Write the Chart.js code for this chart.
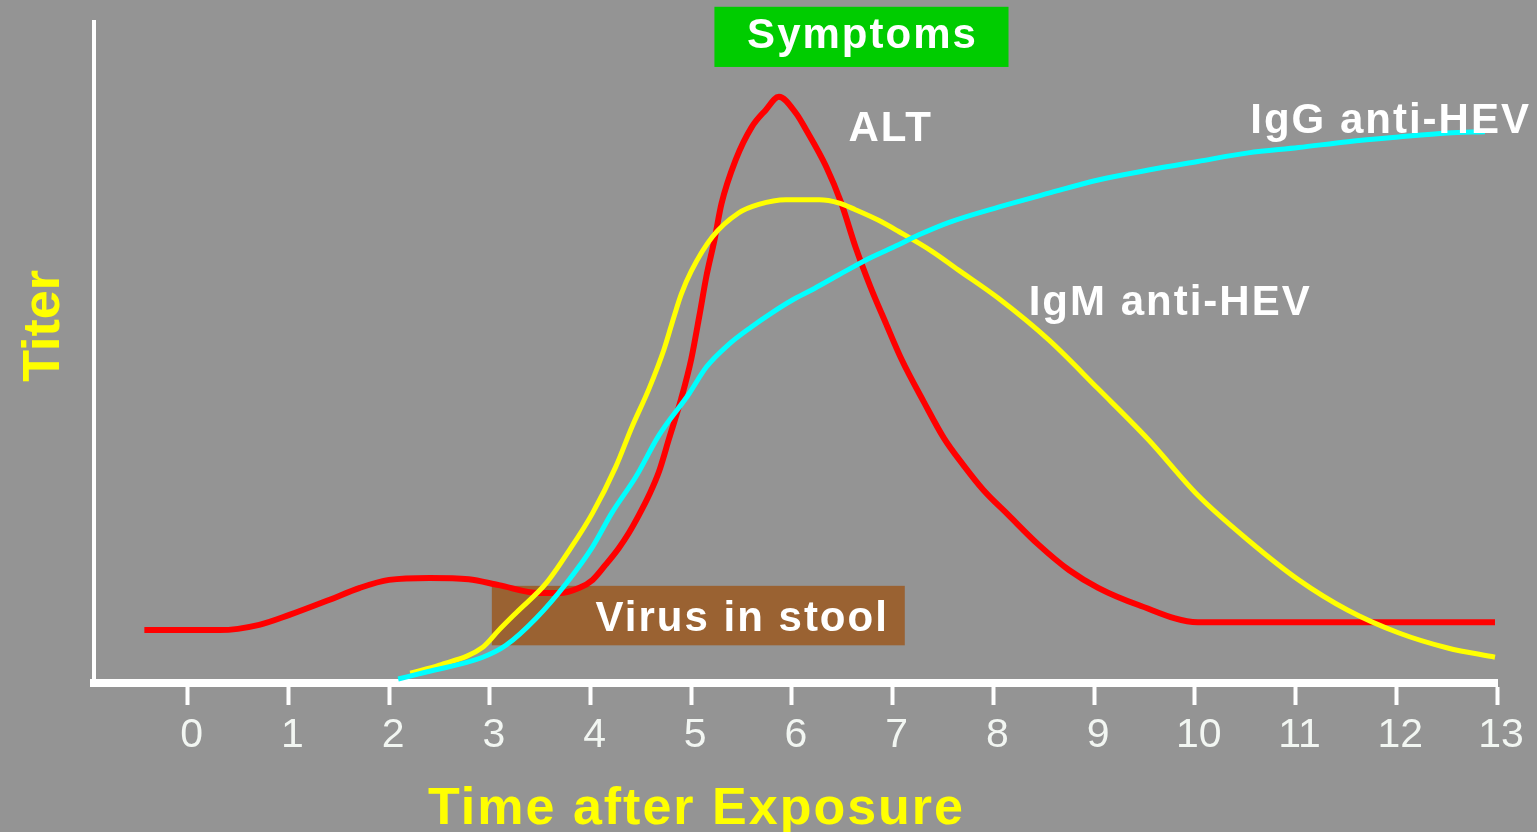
<!DOCTYPE html>
<html>
<head>
<meta charset="utf-8">
<script src="https://cdn.jsdelivr.net/npm/chart.js@4.4.1/dist/chart.umd.min.js"></script>
<style>
  html, body { margin: 0; padding: 0; background: #949494; overflow: hidden; }
  #wrap { width: 1537px; height: 832px; position: relative; }
</style>
</head>
<body>
<div id="wrap"><canvas id="c"></canvas></div>
<script>
// ---- data (time after exposure, relative titer 0-100) ----
const xTicks = [0, 1, 2, 3, 4, 5, 6, 7, 8, 9, 10, 11, 12, 13];

const altX = [-0.43, 0.32, 0.71, 1.01, 1.41, 1.71, 2.00, 2.40, 2.79, 3.09, 3.49, 3.69, 3.89, 4.02, 4.15, 4.28, 4.38, 4.48, 4.58, 4.68, 4.78, 4.90, 5.00, 5.08, 5.15, 5.23, 5.30, 5.44, 5.60, 5.74, 5.87, 6.04, 6.14, 6.34, 6.49, 6.63, 6.78, 6.93, 7.09, 7.31, 7.51, 7.70, 7.90, 8.15, 8.45, 8.75, 9.04, 9.44, 10.03, 11.03, 12.98];
const altY = [8.0, 8.0, 8.8, 10.3, 12.6, 14.4, 15.6, 15.9, 15.7, 14.8, 13.6, 13.6, 14.4, 15.6, 17.9, 20.4, 22.7, 25.4, 28.4, 32.0, 37.0, 43.0, 49.0, 55.5, 61.5, 67.0, 72.5, 79.1, 84.1, 86.7, 88.7, 86.2, 83.7, 78.1, 72.6, 66.0, 59.9, 54.5, 48.9, 42.5, 37.0, 33.0, 29.2, 25.4, 20.9, 17.1, 14.4, 11.8, 9.2, 9.2, 9.2];

const igmX = [2.21, 2.50, 2.93, 3.09, 3.26, 3.56, 3.79, 4.02, 4.25, 4.41, 4.58, 4.73, 4.83, 4.90, 5.00, 5.21, 5.47, 5.67, 5.94, 6.27, 6.47, 6.63, 6.86, 7.06, 7.39, 7.65, 8.05, 8.55, 9.04, 9.54, 10.03, 10.53, 11.03, 11.52, 12.02, 12.51, 12.98];
const igmY = [1.5, 2.7, 5.4, 8.0, 10.6, 15.1, 20.1, 25.7, 32.7, 38.7, 44.5, 50.5, 55.5, 58.8, 62.3, 67.5, 71.1, 72.4, 73.1, 73.1, 72.6, 71.6, 70.0, 68.3, 65.3, 62.5, 58.2, 51.9, 44.5, 36.8, 28.4, 21.6, 15.6, 11.0, 7.6, 5.3, 3.9];

const iggX = [2.09, 2.38, 2.93, 3.16, 3.46, 3.76, 4.02, 4.21, 4.45, 4.68, 4.98, 5.15, 5.37, 5.60, 5.80, 6.00, 6.20, 6.40, 6.59, 6.79, 7.03, 7.26, 7.56, 8.05, 8.55, 9.04, 9.54, 10.03, 10.53, 11.03, 11.52, 12.02, 12.51, 12.88];
const iggY = [0.6, 1.7, 3.9, 5.7, 9.8, 15.1, 20.6, 25.7, 31.2, 37.5, 43.8, 47.8, 51.2, 53.9, 56.0, 57.9, 59.5, 61.2, 62.8, 64.4, 66.1, 67.8, 69.7, 72.0, 74.1, 76.1, 77.6, 78.9, 80.2, 81.0, 81.9, 82.6, 83.2, 83.4];

const seriesNames = ['IgG anti-HEV', 'IgM anti-HEV', 'ALT'];
const seriesColors = ['#00ffff', '#ffff00', '#ff0000'];

// ---- chart ----
const pts = (xs, ys) => xs.map((x, i) => ({ x: x, y: ys[i] }));

const annot = {
  id: 'annot',
  beforeDraw(chart) {
    const c = chart.ctx;
    c.save();
    c.fillStyle = '#949494';
    c.fillRect(0, 0, chart.width, chart.height);
    c.restore();
  },
  beforeDatasetsDraw(chart) {
    const c = chart.ctx, xs = chart.scales.x, ys = chart.scales.y;
    const X = v => xs.getPixelForValue(v), Y = v => ys.getPixelForValue(v);
    c.save();
    // Virus in stool box
    c.fillStyle = '#9a6232';
    c.fillRect(X(3.02), Y(14.7), X(7.12) - X(3.02), Y(5.7) - Y(14.7));
    c.fillStyle = '#ffffff';
    c.font = 'bold 42px "Liberation Sans", Arial, sans-serif';
    c.letterSpacing = '2px';
    c.textBaseline = 'alphabetic';
    c.textAlign = 'left';
    c.fillText('Virus in stool', X(4.05), Y(7.9));
    // Symptoms box
    c.fillStyle = '#00cc00';
    c.fillRect(X(5.23), Y(102.3), X(8.15) - X(5.23), Y(93.2) - Y(102.3));
    c.fillStyle = '#ffffff';
    c.textAlign = 'center';
    c.fillText('Symptoms', X(6.70), Y(96.1));
    c.restore();
  },
  afterDraw(chart) {
    const c = chart.ctx, xs = chart.scales.x, ys = chart.scales.y;
    const X = v => xs.getPixelForValue(v), Y = v => ys.getPixelForValue(v);
    c.save();
    c.fillStyle = '#ffffff';
    c.font = 'bold 42px "Liberation Sans", Arial, sans-serif';
    c.letterSpacing = '2px';
    c.textAlign = 'left';
    c.textBaseline = 'alphabetic';
    c.fillText('ALT', X(6.56), Y(82.0));
    c.fillText(seriesNames[0], X(10.55), Y(83.2));
    c.fillText(seriesNames[1], X(8.35), Y(55.7));
    // axis titles
    c.fillStyle = '#ffff00';
    c.font = 'bold 52px "Liberation Sans", Arial, sans-serif';
    c.letterSpacing = '2px';
    c.fillText('Time after Exposure', 428, 824);
    c.translate(59, 326);
    c.rotate(-Math.PI / 2);
    c.textAlign = 'center';
    c.letterSpacing = '0px';
    c.fillText('Titer', 0, 0);
    c.restore();
  }
};

new Chart(document.getElementById('c'), {
  type: 'line',
  data: {
    datasets: [
      { label: seriesNames[0], data: pts(iggX, iggY), borderColor: seriesColors[0], borderWidth: 5 },
      { label: seriesNames[1], data: pts(igmX, igmY), borderColor: seriesColors[1], borderWidth: 5 },
      { label: seriesNames[2], data: pts(altX, altY), borderColor: seriesColors[2], borderWidth: 6 }
    ]
  },
  options: {
    responsive: true,
    maintainAspectRatio: false,
    animation: false,
    parsing: true,
    elements: { point: { radius: 0 }, line: { cubicInterpolationMode: 'monotone', fill: false, borderCapStyle: 'butt' } },
    layout: { padding: { top: 22, right: 40, left: 0, bottom: 0 } },
    plugins: { legend: { display: false }, tooltip: { enabled: false }, title: { display: false } },
    scales: {
      x: {
        type: 'linear',
        min: -0.93,
        max: 13,
        afterBuildTicks: s => { s.ticks = xTicks.map(v => ({ value: v })); },
        afterFit: s => { s.height = 149; },
        border: { display: true, color: '#ffffff', width: 8 },
        grid: { display: true, drawOnChartArea: false, drawTicks: true, tickLength: 22, tickWidth: 4, tickColor: '#ffffff' },
        ticks: {
          color: '#f2f6f2',
          font: { family: '"Liberation Sans", Arial, sans-serif', size: 41, weight: 'normal' },
          padding: 6,
          labelOffset: 4,
          maxRotation: 0,
          autoSkip: false,
          callback: v => String(v)
        }
      },
      y: {
        type: 'linear',
        min: 0,
        max: 100,
        afterFit: s => { s.width = 94; },
        border: { display: true, color: '#ffffff', width: 4 },
        grid: { display: false, drawTicks: false },
        ticks: { display: false }
      }
    }
  },
  plugins: [annot]
});
</script>
</body>
</html>
